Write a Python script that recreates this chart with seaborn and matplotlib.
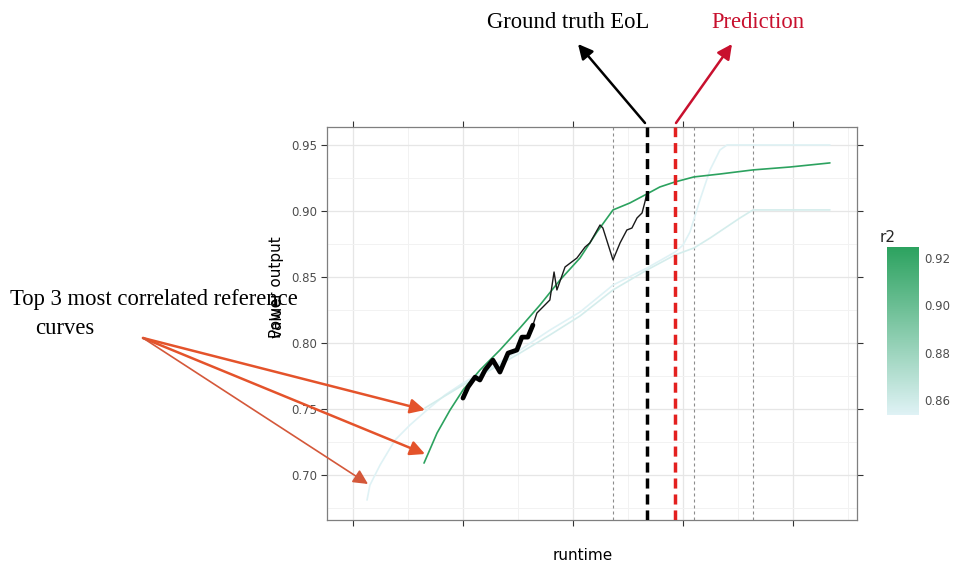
import numpy as np
import pandas as pd
import matplotlib
matplotlib.use("Agg")
import matplotlib.pyplot as plt
from matplotlib.colors import LinearSegmentedColormap, Normalize
from matplotlib.colorbar import ColorbarBase
import seaborn as sns

# ---------------- data ----------------
# observed power output used for fitting (thick) and its continuation (thin)
fit_runtime = [500, 523, 555, 577, 600, 636, 668, 705, 745, 768, 795, 818]
fit_value = [0.7583, 0.7667, 0.7742, 0.7720, 0.7795, 0.7871, 0.7780,
             0.7924, 0.7947, 0.8045, 0.8045, 0.8136]

obs_runtime = [818, 836, 895, 914, 927, 964, 1018, 1055, 1077, 1123, 1136,
               1182, 1214, 1245, 1268, 1291, 1314, 1327, 1336]
obs_value = [0.8136, 0.8227, 0.8326, 0.8538, 0.8402, 0.8576, 0.8644, 0.8727,
             0.8758, 0.8894, 0.8871, 0.8629, 0.8758, 0.8856, 0.8871, 0.8947,
             0.8985, 0.9068, 0.9136]

# three most correlated reference curves
ref1_runtime = [323, 382, 441, 500, 577, 668, 759, 850, 941, 1032, 1109, 1182,
                1259, 1336, 1395, 1464, 1550, 1668, 1818, 1986, 2168]
ref1_value = [0.7091, 0.7318, 0.7492, 0.7644, 0.7795, 0.7947, 0.8114, 0.8288,
              0.8477, 0.8644, 0.8841, 0.9008, 0.9061, 0.9129, 0.9182, 0.9220,
              0.9258, 0.9280, 0.9311, 0.9333, 0.9364]
ref1_r2 = 0.9247

ref2_runtime = [64, 77, 123, 191, 259, 336, 418, 500, 623, 759, 895, 1032, 1182,
                1336, 1464, 1500, 1532, 1577, 1623, 1668, 1700, 2168]
ref2_value = [0.6811, 0.6924, 0.7076, 0.7265, 0.7379, 0.7492, 0.7606, 0.7697,
              0.7811, 0.7947, 0.8098, 0.8235, 0.8439, 0.8568, 0.8689, 0.8742,
              0.8841, 0.9083, 0.9311, 0.9462, 0.9500, 0.9500]
ref2_r2 = 0.8537

ref3_runtime = [327, 500, 623, 759, 895, 1032, 1182, 1336, 1464, 1550, 1623,
                1691, 1759, 1818, 2168]
ref3_value = [0.7508, 0.7682, 0.7795, 0.7924, 0.8061, 0.8205, 0.8402, 0.8553,
              0.8667, 0.8720, 0.8795, 0.8871, 0.8947, 0.9008, 0.9008]
ref3_r2 = 0.8580

# matched reference end-of-life points and the two EoL markers
ref_eol = [1182, 1550, 1818]
true_eol = 1336
pred_eol = 1464

y_ticks = [0.70, 0.75, 0.80, 0.85, 0.90, 0.95]
x_ticks = [0, 500, 1000, 1500, 2000]
cbar_ticks = [0.86, 0.88, 0.90, 0.92]
r2_range = (0.8537, 0.9247)

# ---------------- frames ----------------
ref = pd.concat([
    pd.DataFrame({"runtime": ref1_runtime, "value": ref1_value, "curve": "c1", "r2": ref1_r2}),
    pd.DataFrame({"runtime": ref2_runtime, "value": ref2_value, "curve": "c2", "r2": ref2_r2}),
    pd.DataFrame({"runtime": ref3_runtime, "value": ref3_value, "curve": "c3", "r2": ref3_r2}),
], ignore_index=True)
fit_df = pd.DataFrame({"runtime": fit_runtime, "value": fit_value})
obs_df = pd.DataFrame({"runtime": obs_runtime, "value": obs_value})

# ---------------- figure ----------------
sns.set_theme(style="white")
plt.rcParams["font.family"] = ["DejaVu Sans"]
W, H = 954, 565
fig = plt.figure(figsize=(W / 100, H / 100), dpi=100)
fig.patch.set_facecolor("white")

def px_box(l, t, r, b):
    return [l / W, 1 - b / H, (r - l) / W, (b - t) / H]

ax = fig.add_axes(px_box(327, 127, 857, 520))
ax.set_facecolor("white")

cmap = LinearSegmentedColormap.from_list("r2", ["#dff2f5", "#2ca25f"])

# grid (major + minor), ggplot-like
for v in x_ticks:
    ax.axvline(v, color="#e6e6e6", lw=0.9, zorder=0)
for v in np.arange(-250, 2300, 500):
    ax.axvline(v, color="#f2f2f2", lw=0.7, zorder=0)
for v in y_ticks:
    ax.axhline(v, color="#e6e6e6", lw=0.9, zorder=0)
for v in np.arange(0.675, 0.97, 0.05):
    ax.axhline(v, color="#f2f2f2", lw=0.7, zorder=0)

for v in ref_eol:
    ax.axvline(v, color="#8c8c8c", lw=0.8, dashes=(2.7, 2.7), zorder=1)

sns.lineplot(data=ref, x="runtime", y="value", hue="r2", units="curve",
             estimator=None, palette=cmap, hue_norm=r2_range, legend=False,
             lw=1.2, ax=ax, zorder=2)
sns.lineplot(data=obs_df, x="runtime", y="value", color="#1a1a1a", lw=1.0,
             ax=ax, zorder=3)
sns.lineplot(data=fit_df, x="runtime", y="value", color="black", lw=3.4,
             ax=ax, zorder=4)

ax.axvline(true_eol, color="black", lw=2.5, dashes=(2.9, 1.7), zorder=5)
ax.axvline(pred_eol, color="#e3201f", lw=2.5, dashes=(2.9, 1.7), zorder=5)

ax.set_xlim(-118, 2291)
ax.set_ylim(0.666, 0.9636)
ax.set_xticks(x_ticks)
ax.set_xticklabels([])
ax.set_yticks(y_ticks)
ax.set_yticklabels([f"{v:.2f}" for v in y_ticks])
ax.tick_params(axis="both", which="both", direction="out", length=4, width=0.8,
               color="#333333", labelsize=8.5, labelcolor="#4d4d4d",
               top=True, right=True, bottom=True, left=True, pad=3)
for s in ax.spines.values():
    s.set_color("#7f7f7f")
    s.set_linewidth(0.9)
ax.set_xlabel("")
ax.set_ylabel("")

# axis titles (two y titles drawn on top of each other)
fig.text(583 / W, 1 - 555 / H, "runtime", ha="center", va="center",
         fontsize=11, color="black")
fig.text(277 / W, 1 - 338 / H, "Power output", rotation=90,
         rotation_mode="anchor", ha="left", va="center", fontsize=11, color="black")
fig.text(277 / W, 1 - 338 / H, "value", rotation=90,
         rotation_mode="anchor", ha="left", va="center", fontsize=11, color="black")

# colour bar
cax = fig.add_axes(px_box(887, 247, 919, 415))
cb = ColorbarBase(cax, cmap=cmap, norm=Normalize(*r2_range), orientation="vertical")
cb.outline.set_visible(False)
cb.set_ticks(cbar_ticks)
cb.set_ticklabels([f"{v:.2f}" for v in cbar_ticks])
cax.tick_params(axis="y", direction="in", length=5, width=1.2, color="#d9d9d9",
                labelsize=8.5, labelcolor="#4d4d4d", left=True, right=True, pad=4)
fig.text(880 / W, 1 - 237 / H, "r2", ha="left", va="center", fontsize=11)

# callouts
serif = ["Liberation Serif", "DejaVu Serif"]

def fpx(x, y):
    return (x, H - y)

fig.text(568 / W, 1 - 22 / H, "Ground truth EoL", ha="center", va="center",
         fontsize=16.3, family=serif, color="black")
fig.text(758 / W, 1 - 22 / H, "Prediction", ha="center", va="center",
         fontsize=16.3, family=serif, color="#c8102e")
fig.text(10 / W, 1 - 300 / H, "Top 3 most correlated reference", ha="left",
         va="center", fontsize=16.3, family=serif, color="black")
fig.text(35 / W, 1 - 328 / H, "curves", ha="left", va="center",
         fontsize=16.3, family=serif, color="black")

def arrow(start, tip, color, lw=1.8, ms=22):
    ax.annotate("", xy=fpx(*tip), xytext=fpx(*start), xycoords="figure pixels",
                textcoords="figure pixels", annotation_clip=False, zorder=10,
                arrowprops=dict(arrowstyle="-|>", color=color, lw=lw,
                                mutation_scale=ms, shrinkA=0, shrinkB=0))

arrow((645, 123), (578, 44), "black")
arrow((676, 123), (732, 44), "#c8102e")
arrow((143, 338), (425, 410), "#e4532b")
arrow((143, 338), (425, 454), "#e4532b")
arrow((143, 338), (368, 484), "#d4583a", lw=1.2)

fig.savefig("out.png", dpi=100, facecolor="white")
